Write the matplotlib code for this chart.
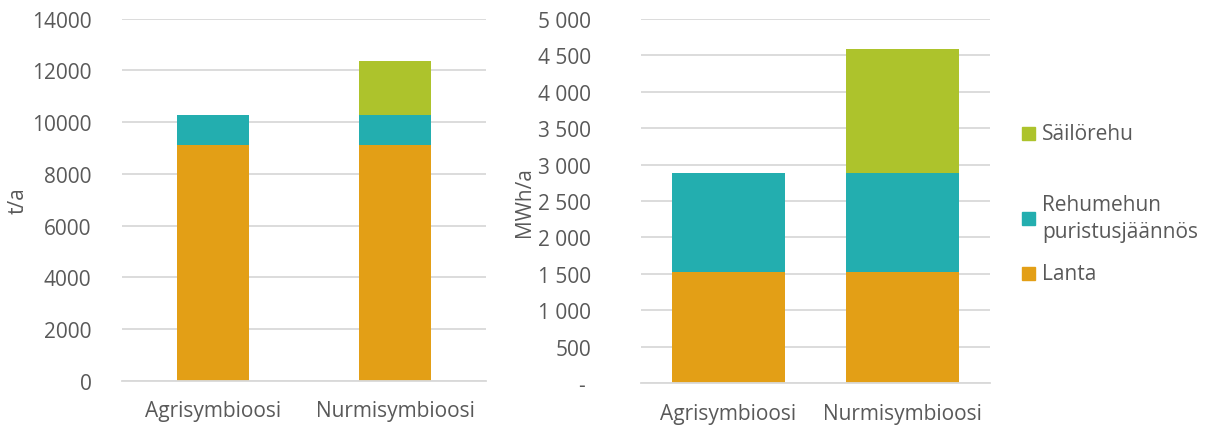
import matplotlib.pyplot as plt
from matplotlib.patches import Rectangle
from matplotlib.ticker import FuncFormatter

plt.rcParams['font.family'] = ['Open Sans', 'DejaVu Sans']

categories = ["Agrisymbioosi", "Nurmisymbioosi"]
series = ["Lanta", "Rehumehun\npuristusjäännös", "Säilörehu"]

# t/a
mass_lanta = [9100, 9100]
mass_rehu = [1170, 1170]
mass_sailo = [0, 2090]

# MWh/a
energy_lanta = [1520, 1520]
energy_rehu = [1370, 1370]
energy_sailo = [0, 1690]

colors = ["#E39F16", "#23AEAF", "#ADC32C"]
text_col = "#595959"
grid_col = "#D9D9D9"
fs = 15

W, H = 1208, 427
fig = plt.figure(figsize=(W / 100, H / 100), dpi=100)


def px_axes(x0, y0, x1, y1):
    return fig.add_axes([x0 / W, 1 - y1 / H, (x1 - x0) / W, (y1 - y0) / H])


def stacked(ax, data, width):
    x = range(len(categories))
    bottom = [0] * len(categories)
    for vals, c in zip(data, colors):
        ax.bar(x, vals, width, bottom=bottom, color=c, zorder=2)
        bottom = [b + v for b, v in zip(bottom, vals)]
    ax.set_xlim(-0.5, len(categories) - 0.5)
    ax.set_xticks(list(x))
    ax.set_xticklabels(categories)
    ax.grid(axis="y", color=grid_col, lw=1.3, zorder=0)
    for s in ["top", "right", "left"]:
        ax.spines[s].set_visible(False)
    ax.spines["bottom"].set_color(grid_col)
    ax.spines["bottom"].set_linewidth(1.3)
    ax.tick_params(length=0, labelsize=fs, colors=text_col)
    ax.tick_params(axis="x", pad=14)


ax1 = px_axes(122, 19.7, 486, 381.7)
stacked(ax1, [mass_lanta, mass_rehu, mass_sailo], 0.4)
ax1.set_ylim(0, 14000)
ax1.set_yticks(range(0, 14001, 2000))
ax1.tick_params(axis="y", pad=22)
ax1.set_ylabel("t/a", fontsize=fs, color=text_col)
ax1.yaxis.set_label_coords((29 - 122) / 364, 0.5)


def thousands(v, pos):
    if v == 0:
        return "- "
    return f"{int(v):,}".replace(",", " ")


ax2 = px_axes(641, 19.7, 990, 384.3)
stacked(ax2, [energy_lanta, energy_rehu, energy_sailo], 0.65)
ax2.set_ylim(0, 5000)
ax2.set_yticks(range(0, 5001, 500))
ax2.yaxis.set_major_formatter(FuncFormatter(thousands))
ax2.tick_params(axis="y", pad=36)
ax2.set_ylabel("MWh/a", fontsize=fs, color=text_col)
ax2.yaxis.set_label_coords((535 - 641) / 349, 0.5)

# legend, drawn top-down in reverse stacking order
legend_y = [134, 219, 274]
for lab, c, y in zip(series[::-1], colors[::-1], legend_y):
    fig.add_artist(Rectangle((1022 / W, 1 - (y + 6.5) / H), 13 / W, 13 / H,
                             transform=fig.transFigure, color=c))
    fig.text(1042 / W, 1 - y / H, lab, fontsize=fs, color=text_col,
             va="center", ha="left", linespacing=1.35)

fig.savefig("out.png", dpi=100)
